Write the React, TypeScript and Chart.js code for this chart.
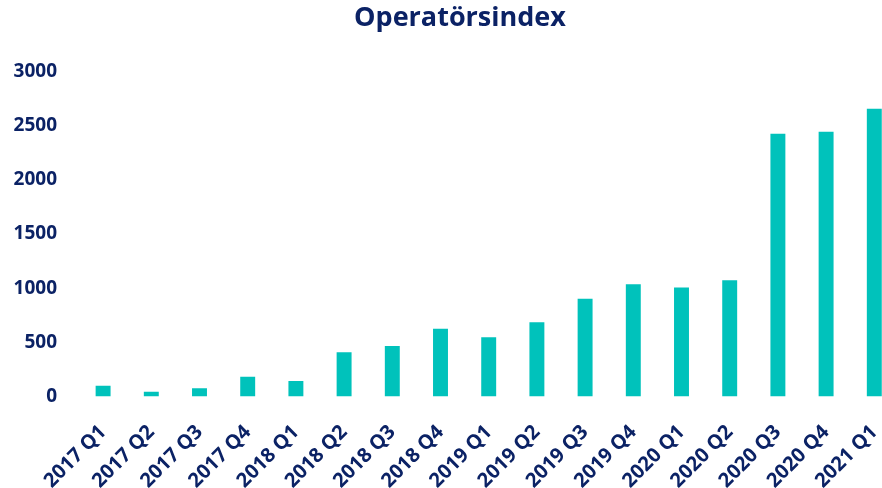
import React, { useEffect, useRef } from "react";
import { Chart, registerables } from "chart.js";

Chart.register(...registerables);

const categories = [
  "2017 Q1", "2017 Q2", "2017 Q3", "2017 Q4",
  "2018 Q1", "2018 Q2", "2018 Q3", "2018 Q4",
  "2019 Q1", "2019 Q2", "2019 Q3", "2019 Q4",
  "2020 Q1", "2020 Q2", "2020 Q3", "2020 Q4",
  "2021 Q1",
];
const indexValues = [
  100, 44, 75, 182,
  142, 408, 466, 626,
  546, 686, 901, 1035,
  1005, 1072, 2424, 2442,
  2656,
];
const yMin = 0;
const yMax = 3000;
const yStep = 500;
const titleText = "Operatörsindex";

const NAVY = "#0B2265";
const TEAL = "#00C2BB";
const FONT = "'Open Sans', 'DejaVu Sans', sans-serif";

export default function App() {
  const ref = useRef<HTMLCanvasElement | null>(null);

  useEffect(() => {
    if (!ref.current) return;
    const chart = new Chart(ref.current, {
      type: "bar",
      data: {
        labels: categories,
        datasets: [
          {
            label: titleText,
            data: indexValues,
            backgroundColor: TEAL,
            borderWidth: 0,
            categoryPercentage: 1,
            barPercentage: 0.31,
          },
        ],
      },
      options: {
        animation: false,
        responsive: false,
        maintainAspectRatio: false,
        devicePixelRatio: 1,
        layout: { padding: 0 },
        plugins: {
          legend: { display: false },
          tooltip: { enabled: false },
          title: {
            display: true,
            text: titleText,
            color: NAVY,
            font: { family: FONT, size: 27, weight: "bold" },
            padding: { top: 2, bottom: 37 },
          },
        },
        scales: {
          x: {
            grid: { display: false, drawTicks: false },
            border: { display: false },
            ticks: {
              color: NAVY,
              font: { family: FONT, size: 20, weight: "bold" },
              autoSkip: false,
              maxRotation: 45,
              minRotation: 45,
              padding: 24,
            },
            afterFit: (scale: any) => {
              scale.height = 91.5;
            },
          },
          y: {
            min: yMin,
            max: yMax,
            grid: { display: false, drawTicks: false },
            border: { display: false },
            ticks: {
              stepSize: yStep,
              color: NAVY,
              font: { family: FONT, size: 19, weight: "bold" },
              padding: 22,
              callback: (v: any) => String(v),
            },
            afterFit: (scale: any) => {
              scale.width = 79;
            },
          },
          yRightSpacer: {
            position: "right",
            display: true,
            grid: { display: false, drawTicks: false },
            border: { display: false },
            ticks: { display: false },
            afterFit: (scale: any) => {
              scale.width = 21.6;
            },
          },
        },
      },
    });
    return () => chart.destroy();
  }, []);

  return (
    <div
      style={{
        position: "fixed",
        left: 0,
        top: 0,
        width: 882,
        height: 488,
        overflow: "hidden",
        background: "#fff",
      }}
    >
      <canvas ref={ref} width={920} height={488} style={{ display: "block" }} />
    </div>
  );
}
